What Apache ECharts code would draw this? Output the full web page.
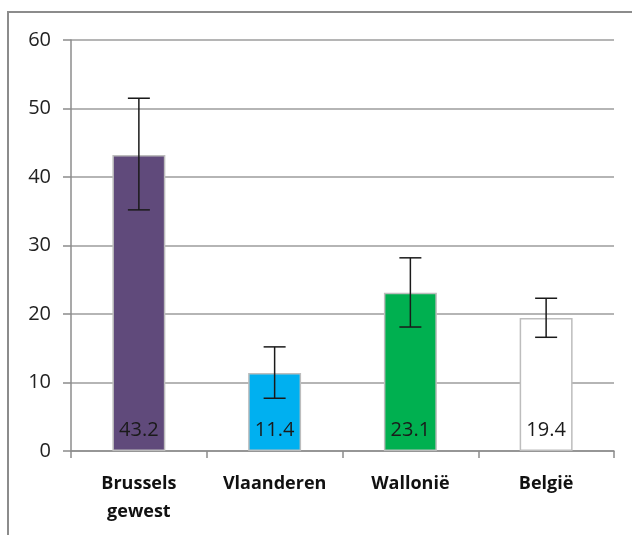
<!DOCTYPE html>
<html>
<head>
<meta charset="utf-8">
<script src="https://cdn.jsdelivr.net/npm/echarts@6/dist/echarts.min.js"></script>
<style>html,body{margin:0;padding:0;background:#fff}#c{width:632px;height:535px}</style>
</head>
<body>
<div id="c"></div>
<script>
const categories = ['Brussels\ngewest', 'Vlaanderen', 'Wallonië', 'België'];
const values = [43.2, 11.4, 23.1, 19.4];
const errLow = [35.2, 7.7, 18.1, 16.6];
const errHigh = [51.5, 15.2, 28.2, 22.3];
const barColors = ['#604a7b', '#00b0f0', '#00b050', '#ffffff'];
const yTicks = [0, 10, 20, 30, 40, 50, 60];

const chart = echarts.init(document.getElementById('c'));
chart.setOption({
  animation: false,
  backgroundColor: '#fff',
  graphic: [{
    type: 'rect', silent: true, z: -1,
    shape: { x: 8, y: 12, width: 700, height: 600 },
    style: { fill: 'none', stroke: '#8c8c8c', lineWidth: 2 }
  }],
  grid: { left: 71, right: 18, top: 40, bottom: 84 },
  xAxis: {
    type: 'category',
    data: categories,
    axisLine: { lineStyle: { color: '#8c8c8c', width: 1.5 } },
    axisTick: { show: true, length: 7, lineStyle: { color: '#8c8c8c', width: 1.5 } },
    axisLabel: {
      color: '#111', fontFamily: 'Open Sans, sans-serif', fontWeight: 'bold',
      fontSize: 18, lineHeight: 28, margin: 19
    }
  },
  yAxis: {
    type: 'value', min: yTicks[0], max: yTicks[yTicks.length - 1], interval: 10,
    axisLine: { show: true, lineStyle: { color: '#8c8c8c', width: 1.5 } },
    axisTick: { show: true, length: 8, lineStyle: { color: '#8c8c8c', width: 1.5 } },
    splitLine: { lineStyle: { color: '#9c9c9c', width: 1.5 } },
    axisLabel: { color: '#222', fontFamily: 'Open Sans, sans-serif', fontSize: 20, margin: 20 }
  },
  series: [{
    type: 'bar',
    barWidth: '39%',
    data: values.map((v, i) => ({
      value: v,
      itemStyle: { color: barColors[i], borderColor: '#bdbdbd', borderWidth: 1.5 }
    })),
    label: {
      show: true, position: 'insideBottom', distance: 11,
      color: '#1a1a1a', fontFamily: 'Open Sans, sans-serif', fontSize: 20,
      formatter: p => p.value.toFixed(1)
    }
  }, {
    type: 'custom',
    z: 5,
    data: categories.map((c, i) => [i, errLow[i], errHigh[i]]),
    renderItem: function (params, api) {
      const x = api.value(0);
      const lo = api.coord([x, api.value(1)]);
      const hi = api.coord([x, api.value(2)]);
      const w = 11;
      const st = { stroke: '#1a1a1a', lineWidth: 1.5 };
      return {
        type: 'group',
        children: [
          { type: 'line', shape: { x1: lo[0], y1: lo[1], x2: hi[0], y2: hi[1] }, style: st },
          { type: 'line', shape: { x1: lo[0] - w, y1: lo[1], x2: lo[0] + w, y2: lo[1] }, style: st },
          { type: 'line', shape: { x1: hi[0] - w, y1: hi[1], x2: hi[0] + w, y2: hi[1] }, style: st }
        ]
      };
    }
  }]
});
</script>
</body>
</html>
